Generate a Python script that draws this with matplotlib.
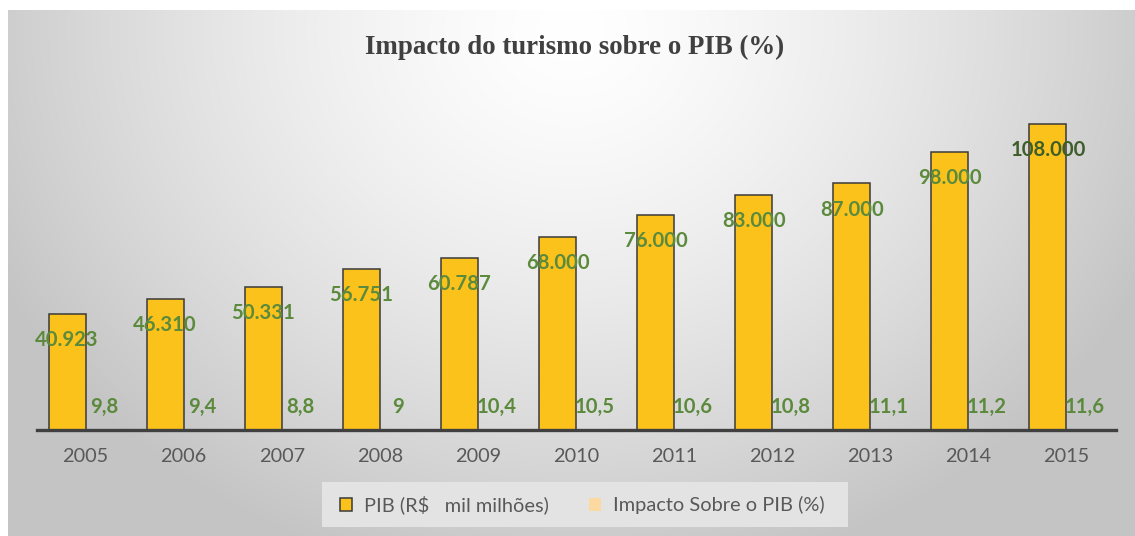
import numpy as np
import matplotlib
matplotlib.use("Agg")
import matplotlib.pyplot as plt
from matplotlib.patches import Rectangle

anos = ["2005", "2006", "2007", "2008", "2009", "2010",
        "2011", "2012", "2013", "2014", "2015"]
pib = [40923, 46310, 50331, 56751, 60787, 68000,
       76000, 83000, 87000, 98000, 108000]
pib_labels = ["40.923", "46.310", "50.331", "56.751", "60.787", "68.000",
              "76.000", "83.000", "87.000", "98.000", "108.000"]
impacto = [9.8, 9.4, 8.8, 9, 10.4, 10.5, 10.6, 10.8, 11.1, 11.2, 11.6]
impacto_labels = ["9,8", "9,4", "8,8", "9", "10,4", "10,5",
                  "10,6", "10,8", "11,1", "11,2", "11,6"]

W, H = 1135, 536
fig = plt.figure(figsize=(W / 100, H / 100), dpi=100)
fig.patch.set_facecolor("white")

# fundo com gradiente radial
bg = fig.add_axes([8 / W, 0, 1 - 8 / W, (H - 10) / H])
gx, gy = np.meshgrid(np.arange(W - 8), np.arange(H - 10))
d = np.sqrt(((gx - 562) / 640.0) ** 2 + ((gy - 20) / 560.0) ** 2)
v = 1.0 - 0.23 * np.clip(d, 0, 1) ** 1.4
bg.imshow(np.dstack([v, v, v]), aspect="auto", interpolation="bilinear")
bg.axis("off")

# caixa da legenda
leg_ax = fig.add_axes([0, 0, 1, 1])
leg_ax.set_xlim(0, W)
leg_ax.set_ylim(H, 0)
leg_ax.axis("off")
leg_ax.add_patch(Rectangle((322, 482), 526, 45, facecolor="#e3e3e3",
                           edgecolor="none"))

base = 430
top_px = 90
ax = fig.add_axes([36.5 / W, (H - base) / H, 1079 / W, (base - top_px) / H])
ax.patch.set_alpha(0)

x = np.arange(len(anos))
w = 0.377
cor_pib = "#fbc21c"
cor_imp = "#fcd9a0"
b1 = ax.bar(x - w / 2, pib, w, color=cor_pib, edgecolor="#3a3a3a",
            linewidth=1.1, zorder=2)
b2 = ax.bar(x + w / 2, impacto, w, color=cor_imp, zorder=2)

ax.set_xlim(-0.5, len(anos) - 0.5)
ax.set_ylim(0, 120000)

verde = "#5b8a3c"
for i in range(len(anos)):
    c = "#3d5e2b" if i == len(anos) - 1 else verde
    ax.annotate(pib_labels[i], (x[i] - w / 2, pib[i]), xytext=(0, -26),
                textcoords="offset pixels", ha="center", va="center",
                fontsize=14.6, fontweight="bold", color=c, family="Lato",
                zorder=3)
    ax.annotate(impacto_labels[i], (x[i] + w / 2, impacto[i]), xytext=(0, 23),
                textcoords="offset pixels", ha="center", va="center",
                fontsize=14.6, fontweight="bold", color=verde, family="Lato",
                zorder=3)

ax.set_xticks(x)
ax.set_xticklabels(anos, fontsize=14.3, color="#595959", family="Lato")
ax.tick_params(axis="x", length=0, pad=13)
ax.set_yticks([])
for s in ["top", "right", "left"]:
    ax.spines[s].set_visible(False)
ax.spines["bottom"].set_color("#404040")
ax.spines["bottom"].set_linewidth(2.4)
ax.spines["bottom"].set_zorder(4)

fig.text(575 / W, 1 - 47 / H, "Impacto do turismo sobre o PIB (%)",
         ha="center", va="center", fontsize=19.4, fontweight="bold",
         color="#404040", family="Liberation Serif")

h1 = Rectangle((0, 0), 1, 1, facecolor=cor_pib, edgecolor="#3a3a3a",
               linewidth=1.1)
h2 = Rectangle((0, 0), 1, 1, facecolor=cor_imp, edgecolor="none")
fig.legend([h1, h2], ["PIB (R$   mil milhões)", "Impacto Sobre o PIB (%)"],
           loc="center", bbox_to_anchor=(582 / W, 1 - 505 / H), ncol=2,
           frameon=False, prop={"family": "Lato", "size": 14.4},
           labelcolor="#595959", handlelength=0.6, handleheight=0.6,
           handletextpad=0.6, columnspacing=2.0)

fig.savefig("out.png", dpi=100)
